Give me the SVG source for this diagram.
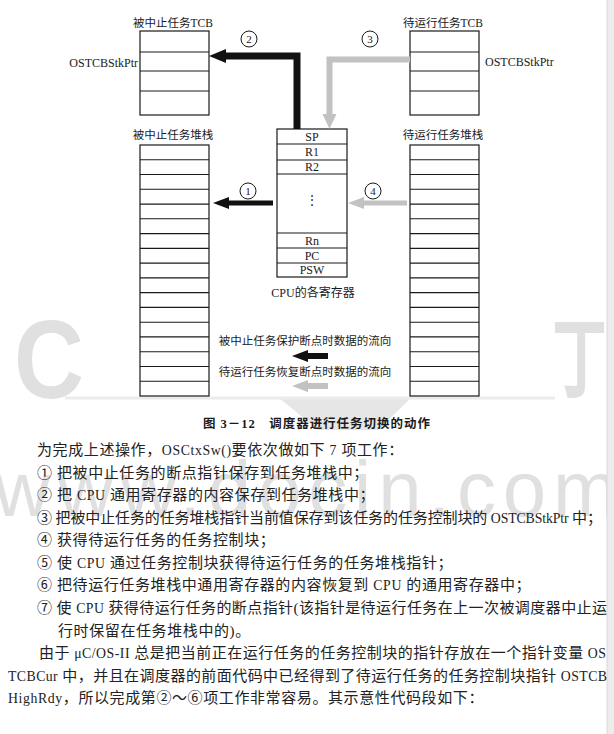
<svg xmlns="http://www.w3.org/2000/svg" width="614" height="734" viewBox="0 0 614 734">
<style>
  .box{fill:#fff;stroke:#1a1a1a;stroke-width:1.2}
  .row{stroke:#1a1a1a;stroke-width:1.1}
  .lbl{font-family:"Liberation Serif","Noto Sans CJK SC",serif;fill:#1a1a1a}
  .t12{font-size:12px}
  .t11{font-size:11.5px}
  .mid{text-anchor:middle}
  .blk{fill:none;stroke:#111}
  .gry{fill:none;stroke:#c2c2c2}
  .num{fill:#fff;stroke:#1a1a1a;stroke-width:1}
  .body{font-family:"Liberation Serif","Noto Sans CJK SC",serif;font-size:15px;fill:#222;letter-spacing:0.6px}
  .fit{letter-spacing:0}
  .lat{font-size:13.8px}
  .wm{font-family:"Liberation Sans","Noto Sans CJK SC",sans-serif;fill:#e0e0e0}
</style>
<defs>
  <marker id="hb" markerUnits="userSpaceOnUse" markerWidth="20" markerHeight="20" refX="0" refY="7" orient="auto"><path d="M0,0 L17,7 L0,14 Z" fill="#111"/></marker>
  <marker id="hg" markerUnits="userSpaceOnUse" markerWidth="20" markerHeight="20" refX="0" refY="7" orient="auto"><path d="M0,0 L15,7 L0,14 Z" fill="#c2c2c2"/></marker>
  <marker id="sb" markerUnits="userSpaceOnUse" markerWidth="20" markerHeight="20" refX="0" refY="6" orient="auto"><path d="M0,0 L16,6 L0,12 Z" fill="#111"/></marker>
  <marker id="sg" markerUnits="userSpaceOnUse" markerWidth="20" markerHeight="20" refX="0" refY="6" orient="auto"><path d="M0,0 L16,6 L0,12 Z" fill="#c2c2c2"/></marker>
</defs>
<rect x="0" y="0" width="614" height="734" fill="#fff"/>
<g id="watermark">
  <text class="wm" x="14" y="398" font-size="112" font-weight="bold" textLength="70" lengthAdjust="spacingAndGlyphs">C</text>
  <text class="wm" x="552" y="390" font-size="88" font-weight="bold" textLength="55" lengthAdjust="spacingAndGlyphs">丁</text>
  <polygon points="278,397 412,397 378,430 318,430" fill="#e6e6e6"/>
  <line x1="65" y1="398" x2="555" y2="398" stroke="#ececec" stroke-width="3"/>
  <text class="wm" x="-6" y="516" font-size="78" textLength="624" lengthAdjust="spacing">www.docin.com</text>
  <rect x="607" y="0" width="7" height="734" fill="#ececec"/>
  <line x1="607" y1="0" x2="607" y2="734" stroke="#d8d8d8" stroke-width="1"/>
</g>
<g id="tcb-suspended">
  <text class="lbl t11 mid" x="173" y="27">被中止任务TCB</text>
  <rect class="box" x="140" y="31" width="69" height="84"/>
  <line class="row" x1="140" y1="52" x2="209" y2="52"/>
  <line class="row" x1="140" y1="71" x2="209" y2="71"/>
  <line class="row" x1="140" y1="91" x2="209" y2="91"/>
  <text class="lbl t12" x="138" y="67" text-anchor="end">OSTCBStkPtr</text>
</g>
<g id="tcb-ready">
  <text class="lbl t11 mid" x="443" y="27">待运行任务TCB</text>
  <rect class="box" x="410" y="31" width="69" height="84"/>
  <line class="row" x1="410" y1="52" x2="479" y2="52"/>
  <line class="row" x1="410" y1="71" x2="479" y2="71"/>
  <line class="row" x1="410" y1="91" x2="479" y2="91"/>
  <text class="lbl t12" x="485" y="66">OSTCBStkPtr</text>
</g>
<g id="stack-suspended">
  <text class="lbl t11 mid" x="173" y="139">被中止任务堆栈</text>
  <rect class="box" x="140" y="145" width="69" height="251"/>
  <path class="row" fill="none" d="M140,159.8H209M140,174.5H209M140,189.3H209M140,204.1H209M140,218.8H209M140,233.6H209M140,248.4H209M140,263.1H209M140,277.9H209M140,292.6H209M140,307.4H209M140,322.2H209M140,336.9H209M140,351.7H209M140,366.5H209M140,381.2H209"/>
</g>
<g id="stack-ready">
  <text class="lbl t11 mid" x="443" y="139">待运行任务堆栈</text>
  <rect class="box" x="410" y="145" width="69" height="251"/>
  <path class="row" fill="none" d="M410,159.8H479M410,174.5H479M410,189.3H479M410,204.1H479M410,218.8H479M410,233.6H479M410,248.4H479M410,263.1H479M410,277.9H479M410,292.6H479M410,307.4H479M410,322.2H479M410,336.9H479M410,351.7H479M410,366.5H479M410,381.2H479"/>
</g>
<g id="cpu">
  <rect class="box" x="277" y="129" width="70" height="148"/>
  <path class="row" fill="none" d="M277,144H347M277,160H347M277,174H347M277,233H347M277,248H347M277,263H347"/>
  <text class="lbl t12 mid" x="312" y="141">SP</text>
  <text class="lbl t12 mid" x="312" y="156">R1</text>
  <text class="lbl t12 mid" x="312" y="171">R2</text>
  <text class="lbl t12 mid" x="312" y="204">⋮</text>
  <text class="lbl t12 mid" x="312" y="245">Rn</text>
  <text class="lbl t12 mid" x="312" y="260">PC</text>
  <text class="lbl t12 mid" x="312" y="274">PSW</text>
  <text class="lbl t12 mid" x="313" y="297">CPU的各寄存器</text>
</g>
<g id="connectors">
  <path class="blk" stroke-width="7" d="M297,129V56H226" marker-end="url(#hb)"/>
  <path class="gry" stroke-width="6" d="M410,59.5H329.5V114" marker-end="url(#hg)"/>
  <path class="blk" stroke-width="5" d="M273,203H229" marker-end="url(#sb)"/>
  <path class="gry" stroke-width="5" d="M407,203H364" marker-end="url(#sg)"/>
</g>
<g id="step-labels">
  <circle class="num" cx="249" cy="39" r="8"/><text class="lbl mid" font-size="11" x="249" y="43">2</text>
  <circle class="num" cx="370" cy="39" r="8"/><text class="lbl mid" font-size="11" x="370" y="43">3</text>
  <circle class="num" cx="248" cy="191" r="8"/><text class="lbl mid" font-size="11" x="248" y="195">1</text>
  <circle class="num" cx="373" cy="191" r="8"/><text class="lbl mid" font-size="11" x="373" y="195">4</text>
</g>
<g id="legend">
  <text class="lbl t11 mid" x="305" y="345">被中止任务保护断点时数据的流向</text>
  <path class="blk" stroke-width="6" d="M328,356H308" marker-end="url(#sb)"/>
  <text class="lbl t11 mid" x="305" y="376">待运行任务恢复断点时数据的流向</text>
  <path class="gry" stroke-width="6" d="M328,386H308" marker-end="url(#sg)"/>
</g>
<g id="caption">
  <text class="lbl" font-size="12.5" font-weight="bold" x="203" y="428" textLength="227" lengthAdjust="spacing">图 3－12　调度器进行任务切换的动作</text>
</g>
<g id="body">
  <text class="body" x="37" y="455">为完成上述操作，<tspan class="lat">OSCtxSw()</tspan>要依次做如下 <tspan class="lat">7</tspan> 项工作：</text>
  <text class="body" x="37" y="478">① 把被中止任务的断点指针保存到任务堆栈中；</text>
  <text class="body" x="37" y="500">② 把 <tspan class="lat">CPU</tspan> 通用寄存器的内容保存到任务堆栈中；</text>
  <text class="body fit" x="37" y="523" textLength="565" lengthAdjust="spacing">③ 把被中止任务的任务堆栈指针当前值保存到该任务的任务控制块的 <tspan class="lat">OSTCBStkPtr</tspan> 中；</text>
  <text class="body" x="37" y="545">④ 获得待运行任务的任务控制块；</text>
  <text class="body" x="37" y="568">⑤ 使 <tspan class="lat">CPU</tspan> 通过任务控制块获得待运行任务的任务堆栈指针；</text>
  <text class="body" x="37" y="590">⑥ 把待运行任务堆栈中通用寄存器的内容恢复到 <tspan class="lat">CPU</tspan> 的通用寄存器中；</text>
  <text class="body fit" x="37" y="613" textLength="570" lengthAdjust="spacing">⑦ 使 <tspan class="lat">CPU</tspan> 获得待运行任务的断点指针(该指针是待运行任务在上一次被调度器中止运</text>
  <text class="body" x="58" y="636">行时保留在任务堆栈中的)。</text>
  <text class="body fit" x="39" y="658" textLength="567" lengthAdjust="spacing">由于 <tspan class="lat">μC/OS-II</tspan> 总是把当前正在运行任务的任务控制块的指针存放在一个指针变量 <tspan class="lat">OS</tspan></text>
  <text class="body fit" x="8" y="681" textLength="599" lengthAdjust="spacing"><tspan class="lat">TCBCur</tspan> 中，并且在调度器的前面代码中已经得到了待运行任务的任务控制块指针 <tspan class="lat">OSTCB</tspan></text>
  <text class="body" x="8" y="703"><tspan class="lat">HighRdy</tspan>，所以完成第②～⑥项工作非常容易。其示意性代码段如下：</text>
</g>
</svg>
